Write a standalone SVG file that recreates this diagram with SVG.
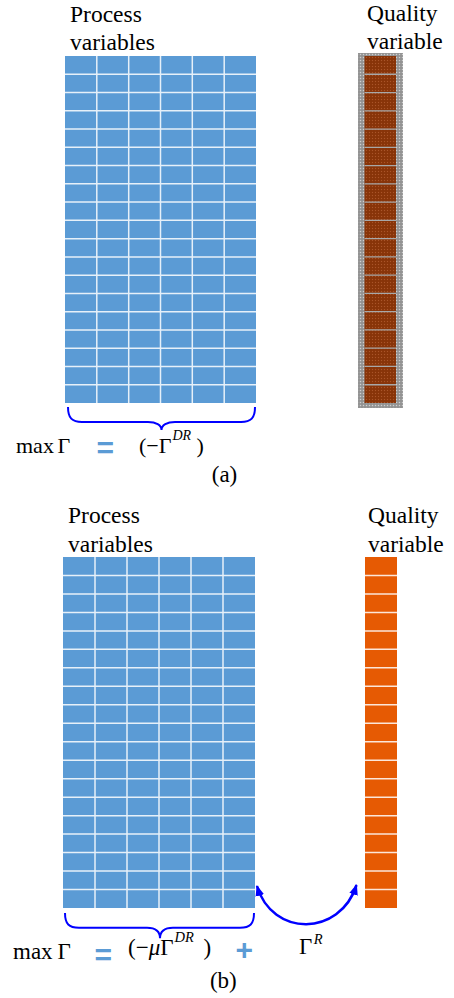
<svg xmlns="http://www.w3.org/2000/svg" width="454" height="998" viewBox="0 0 454 998">
<style>
.lbl{font-family:"Liberation Serif","Times New Roman",serif;font-size:23.5px;fill:#000}
.math{font-family:"Liberation Serif","Times New Roman",serif;fill:#000}
.it{font-style:italic}
.op{font-family:"Liberation Sans",Arial,sans-serif;font-weight:bold;font-size:30px;fill:#5B9BD5}
.grid{fill:#5B9BD5}
.gl{stroke:#ffffff;stroke-opacity:0.85;stroke-width:1.5;fill:none}
.brace{stroke:#0000FF;stroke-width:2;fill:none}
.arrow{stroke:#0000FF;stroke-width:2.5;fill:none}
</style>
<defs>
<pattern id="grayTex" width="3" height="3" patternUnits="userSpaceOnUse">
<rect width="3" height="3" fill="#9c9c9c"/>
<rect width="1" height="1" fill="#d0d0d0"/>
<rect x="1.5" y="1.5" width="1" height="1" fill="#7a7a7a"/>
</pattern>
<pattern id="brownTex" width="3" height="3" patternUnits="userSpaceOnUse">
<rect width="3" height="3" fill="#8B360A"/>
<rect width="1" height="1" fill="#a8552a"/>
<rect x="1.5" y="1.5" width="1" height="1" fill="#7a2c05"/>
</pattern>
<marker id="ah" viewBox="0 0 10 8" refX="9" refY="4" markerWidth="11" markerHeight="9" markerUnits="userSpaceOnUse" orient="auto-start-reverse">
<path d="M0,0 L10,4 L0,8 z" fill="#0000FF"/>
</marker>
</defs>

<!-- Panel (a) -->
<g id="a-process-label">
<text class="lbl" x="70" y="22">Process</text>
<text class="lbl" x="70" y="50">variables</text>
</g>
<g id="a-process-grid">
<rect class="grid" x="65" y="56" width="191" height="347"/>
<path class="gl" d="M96.8,56V403M128.7,56V403M160.5,56V403M192.3,56V403M224.2,56V403
M65,74.26H256M65,92.53H256M65,110.79H256M65,129.05H256M65,147.32H256M65,165.58H256M65,183.84H256M65,202.1H256M65,220.37H256M65,238.63H256M65,256.89H256M65,275.16H256M65,293.42H256M65,311.68H256M65,329.95H256M65,348.21H256M65,366.47H256M65,384.74H256"/>
</g>
<g id="a-quality-label">
<text class="lbl" x="367" y="21">Quality</text>
<text class="lbl" x="367" y="49">variable</text>
</g>
<g id="a-quality-column">
<rect x="358" y="53" width="45" height="355" fill="url(#grayTex)"/>
<rect x="364.5" y="56" width="31.5" height="347" fill="url(#brownTex)"/>
<path stroke="#a8a8a8" stroke-width="1.3" fill="none" d="M364.5,74.26H396M364.5,92.53H396M364.5,110.79H396M364.5,129.05H396M364.5,147.32H396M364.5,165.58H396M364.5,183.84H396M364.5,202.1H396M364.5,220.37H396M364.5,238.63H396M364.5,256.89H396M364.5,275.16H396M364.5,293.42H396M364.5,311.68H396M364.5,329.95H396M364.5,348.21H396M364.5,366.47H396M364.5,384.74H396"/>
</g>
<g id="a-formula">
<text class="math" font-size="22" x="16" y="453.3">max<tspan dx="3.5">Γ</tspan></text>
<text class="op" x="96.5" y="458.2">=</text>
<text class="math" font-size="22" x="139" y="453">(−Γ<tspan class="it" font-size="14" dx="1" dy="-13">DR</tspan></text>
<text class="math" font-size="22" x="196.5" y="453">)</text>
<text class="math" font-size="23" x="224.5" y="481.7" text-anchor="middle">(a)</text>
</g>

<!-- Panel (b) -->
<g id="b-process-label">
<text class="lbl" x="68" y="523">Process</text>
<text class="lbl" x="68" y="552">variables</text>
</g>
<g id="b-process-grid">
<rect class="grid" x="63" y="557" width="192" height="351"/>
<path class="gl" d="M95,557V908M127,557V908M159,557V908M191,557V908M223,557V908
M63,575.47H255M63,593.95H255M63,612.42H255M63,630.89H255M63,649.37H255M63,667.84H255M63,686.32H255M63,704.79H255M63,723.26H255M63,741.74H255M63,760.21H255M63,778.68H255M63,797.16H255M63,815.63H255M63,834.11H255M63,852.58H255M63,871.05H255M63,889.53H255"/>
</g>
<g id="b-quality-label">
<text class="lbl" x="368" y="523">Quality</text>
<text class="lbl" x="368" y="552">variable</text>
</g>
<g id="b-quality-column">
<rect x="365" y="557" width="32" height="351" fill="#E65A03"/>
<path stroke="#ffffff" stroke-opacity="0.85" stroke-width="1.5" fill="none" d="M365,575.47H397M365,593.95H397M365,612.42H397M365,630.89H397M365,649.37H397M365,667.84H397M365,686.32H397M365,704.79H397M365,723.26H397M365,741.74H397M365,760.21H397M365,778.68H397M365,797.16H397M365,815.63H397M365,834.11H397M365,852.58H397M365,871.05H397M365,889.53H397"/>
</g>
<g id="b-formula">
<text class="math" font-size="23" x="13" y="959.3">max<tspan dx="5">Γ</tspan></text>
<text class="op" x="94.5" y="965">=</text>
<text class="math" font-size="23" x="128" y="955">(−<tspan class="it">μ</tspan>Γ<tspan class="it" font-size="14.5" dx="1" dy="-13">DR</tspan></text>
<text class="math" font-size="23" x="203.5" y="955">)</text>
<text class="op" x="235.5" y="960">+</text>
<text class="math" font-size="23" x="299" y="954.3">Γ<tspan class="it" font-size="14.5" dx="1.5" dy="-10">R</tspan></text>
<text class="math" font-size="23" x="223.3" y="988.3" text-anchor="middle">(b)</text>
</g>

<!-- Connectors -->
<g id="connectors">
<path class="brace" d="M68,407 C68,418 72,422 82,422 L148,422 C156,422 161.5,425 161.5,430 C161.5,425 167,422 175,422 L241,422 C251,422 255,418 255,407"/>
<path class="brace" d="M65,913 C65,924 69,927.7 79,927.7 L147,927.7 C155,927.7 160,931 160,938.3 C160,931 165,927.7 173,927.7 L240,927.7 C250,927.7 254,924 254,913"/>
<path class="arrow" d="M257,886 C272,937 340,937 356.5,885" marker-start="url(#ah)" marker-end="url(#ah)"/>
</g>
</svg>
